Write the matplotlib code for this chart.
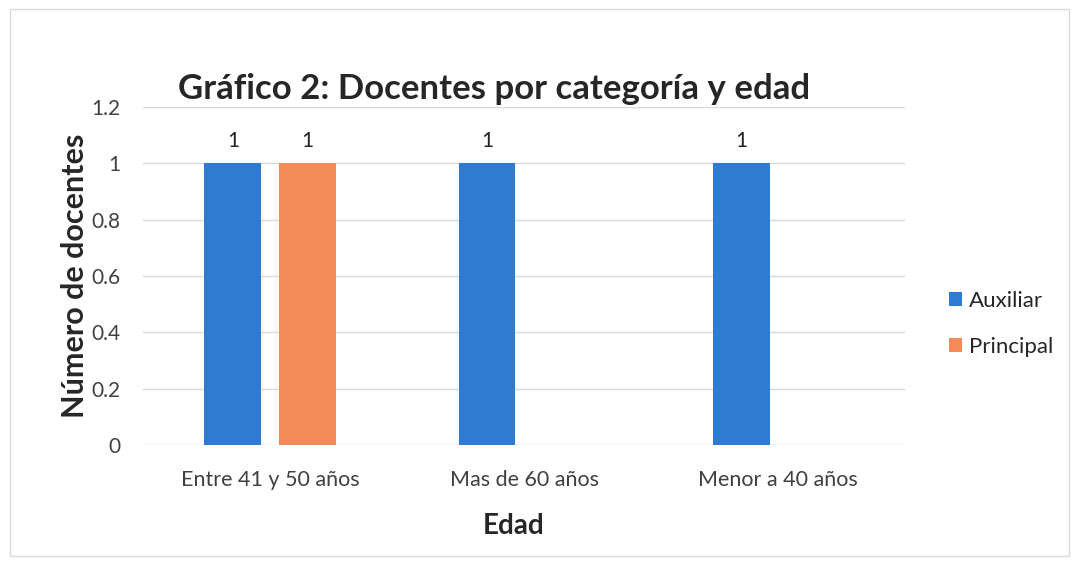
import matplotlib.pyplot as plt
import numpy as np
from matplotlib.patches import Rectangle

# Data
categories = ["Entre 41 y 50 años", "Mas de 60 años", "Menor a 40 años"]
auxiliar = [1, 1, 1]
principal = [1, np.nan, np.nan]  # empty cells in the source sheet
series_names = ["Auxiliar", "Principal"]
yticks = [0, 0.2, 0.4, 0.6, 0.8, 1, 1.2]

plt.rcParams['font.family'] = ['Lato', 'DejaVu Sans']

fig = plt.figure(figsize=(10.79, 5.65), dpi=100)
ax = fig.add_axes([0.1325, 0.2124, 0.7065, 0.5982])

x = np.arange(len(categories))
width = 0.224
offset = 0.146
blue = "#2f7bd4"
orange = "#f28b57"

b1 = ax.bar(x - offset, auxiliar, width, color=blue, label=series_names[0], zorder=3)
b2 = ax.bar(x + offset, principal, width, color=orange, label=series_names[1], zorder=3)

# data labels
for xs, vals in [(x - offset, auxiliar), (x + offset, principal)]:
    for xi, v in zip(xs, vals):
        if not np.isnan(v):
            ax.text(xi, v + 0.045, f"{v:g}", ha="center", va="bottom",
                    fontsize=15, color="#222222")

ax.set_xlim(-0.5, 2.5)
ax.set_ylim(0, 1.2)
ax.set_yticks(yticks)
ax.set_yticklabels([f"{t:g}" for t in yticks])
ax.set_xticks(x)
ax.set_xticklabels(categories)
ax.tick_params(axis="both", length=0, labelsize=15.5, colors="#404040")
ax.tick_params(axis="y", pad=16, labelsize=15)
ax.tick_params(axis="x", pad=18)
ax.grid(axis="y", color="#d9d9d9", linewidth=1, zorder=0)
for s in ax.spines.values():
    s.set_visible(False)

ax.set_title("Gráfico 2: Docentes por categoría y edad", fontsize=25,
             fontweight="bold", color="#262626", pad=6, x=0.46)
ax.set_ylabel("Número de docentes", fontsize=22, fontweight="bold",
              color="#262626", labelpad=2)
ax.set_xlabel("Edad", fontsize=20, fontweight="bold", color="#262626", labelpad=18)
ax.xaxis.set_label_coords(0.486, -0.2)

leg = fig.legend(handles=[b1, b2], loc="center left", bbox_to_anchor=(0.861, 0.427),
                 frameon=False, fontsize=16, handlelength=0.6, handleheight=0.6,
                 handletextpad=0.3, labelspacing=1.15, labelcolor="#262626")

# outer chart border
fig.patches.append(Rectangle((0.009, 0.016), 0.982, 0.968, transform=fig.transFigure,
                             fill=False, edgecolor="#d9d9d9", linewidth=1))

fig.savefig("out.png", dpi=100)
